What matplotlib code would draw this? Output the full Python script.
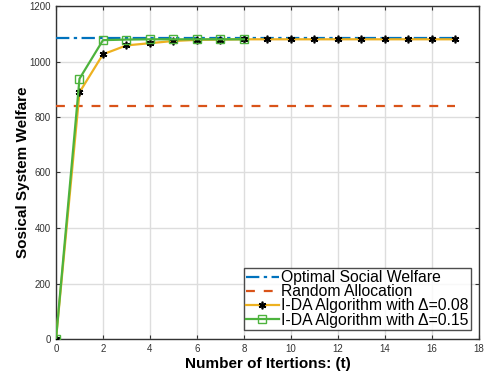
import matplotlib
matplotlib.use("Agg")
import matplotlib.pyplot as plt
import numpy as np

plt.rcParams['font.family'] = ['Liberation Sans', 'DejaVu Sans']

t = list(range(0, 18))
optimal_value = 1086
random_value = 840
ida_008 = [0, 889, 1026, 1058, 1066, 1074, 1078, 1079, 1080, 1080, 1080, 1080, 1080, 1080, 1080, 1080, 1080, 1080]
t_015 = list(range(0, 9))
ida_015 = [0, 938, 1077, 1079, 1080, 1080, 1080, 1080, 1080]

fig = plt.figure(figsize=(4.89, 3.74), dpi=100)
ax = fig.add_axes([56/489, 1-339/374, (479-56)/489, (339-6)/374])

ax.plot([t[0], t[-1]], [optimal_value]*2, color='#0072BD', ls=(0, (6, 2, 1.5, 2)), lw=1.6,
        label='Optimal Social Welfare', zorder=3)
ax.plot([t[0], t[-1]], [random_value]*2, color='#D95319', ls=(0, (4, 4)), lw=1.6,
        label='Random Allocation', zorder=3)
ax.plot(t, ida_008, color='#EDB120', lw=1.6, marker=(6, 2, 0), ms=5.5, mec='black', mew=1.2,
        label='I-DA Algorithm with Δ=0.08', zorder=4)
ax.plot(t_015, ida_015, color='#4DB33D', lw=1.6, marker='s', ms=6, mfc='none', mec='#4DB33D', mew=1.0,
        label='I-DA Algorithm with Δ=0.15', zorder=5)

ax.set_xlim(0, 18)
ax.set_ylim(0, 1200)
ax.set_xticks(range(0, 19, 2))
ax.set_yticks(range(0, 1201, 200))
ax.grid(True, color='#DDDDDD', lw=1.0)
ax.set_axisbelow(True)
ax.tick_params(direction='in', top=True, right=True, labelsize=7, colors='#333333', length=3)
for s in ax.spines.values():
    s.set_color('#333333')
    s.set_linewidth(1.0)

ax.set_xlabel('Number of Itertions: (t)', fontsize=11, fontweight='bold', labelpad=2)
ax.set_ylabel('Sosical System Welfare', fontsize=11, fontweight='bold', labelpad=0)

leg = ax.legend(loc='lower right', fontsize=11.3, frameon=True, fancybox=False,
                edgecolor='#222222', borderpad=0.15, labelspacing=-0.05, handlelength=2.1,
                handletextpad=0.15, borderaxespad=0.0,
                bbox_to_anchor=((471-56)/(479-56), (339-330)/(339-6)),
                bbox_transform=ax.transAxes)
leg.get_frame().set_linewidth(1.0)

fig.savefig('out.png', dpi=100)
